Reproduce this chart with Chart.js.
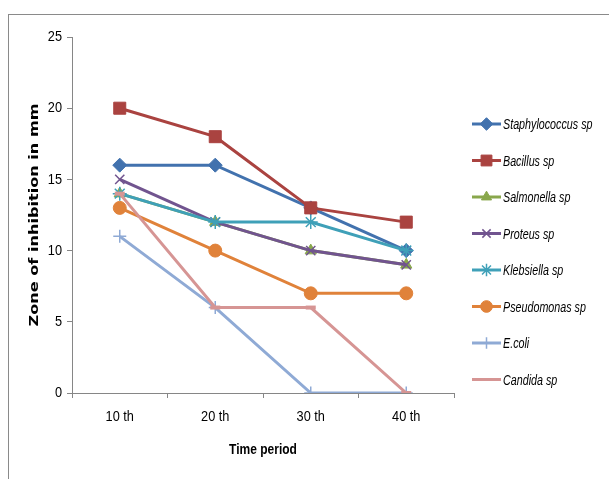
<!DOCTYPE html>
<html>
<head>
<meta charset="utf-8">
<script src="https://cdn.jsdelivr.net/npm/chart.js@4"></script>
<style>
  html, body { margin: 0; padding: 0; background: #fff; }
  #wrap { position: relative; width: 609px; height: 479px; overflow: hidden; }
  #frame { position: absolute; left: 8px; top: 14px; width: 700px; height: 600px; border: 1px solid #8a8a8a; }
  #chart { position: absolute; left: 0; top: 0; }
</style>
</head>
<body>
<div id="wrap">
  <div id="frame"></div>
  <canvas id="chart" width="609" height="479"></canvas>
</div>
<script>
// time periods on the x axis
const periods = ['10 th', '20 th', '30 th', '40 th'];

// zone of inhibition (mm) per organism
const staphylococcus = [16, 16, 13, 10];
const bacillus = [20, 18, 13, 12];
const salmonella = [14, 12, 10, 9];
const proteus = [15, 12, 10, 9];
const klebsiella = [14, 12, 12, 10];
const pseudomonas = [13, 10, 7, 7];
const ecoli = [11, 6, 0, 0];
const candida = [14, 6, 6, 0];

const yTicks = [0, 5, 10, 15, 20, 25];
const xTitle = 'Time period';
const yTitle = 'Zone of inhibition in mm';

const sans = "'Liberation Sans', Arial, sans-serif";

function series(label, data, color, style, radius, bw, idx) {
  return {
    label: label,
    data: data,
    borderColor: color,
    backgroundColor: color,
    borderWidth: 3,
    pointStyle: style,
    pointRadius: radius,
    pointHoverRadius: radius,
    pointBorderWidth: bw,
    pointBorderColor: color,
    pointBackgroundColor: color,
    tension: 0,
    order: -idx // later series sit on top, like the original
  };
}

const datasets = [
  series('Staphylococcus sp', staphylococcus, '#4272AE', 'rectRot', 7, 1, 0),
  series('Bacillus sp', bacillus, '#AA4340', 'rect', 8.5, 1, 1),
  series('Salmonella sp', salmonella, '#89A74C', 'triangle', 6.5, 1, 2),
  series('Proteus sp', proteus, '#71548F', 'crossRot', 6.5, 1.5, 3),
  series('Klebsiella sp', klebsiella, '#3FA0B8', 'star', 7, 1.5, 4),
  series('Pseudomonas sp', pseudomonas, '#E0823A', 'circle', 6.5, 1, 5),
  series('E.coli', ecoli, '#8FAAD5', 'cross', 6.5, 1.5, 6),
  series('Candida sp', candida, '#D69594', 'line', 5, 4, 7)
];

// the original picture is squeezed sideways, so text is drawn narrow
function squeezedText(ctx, text, x, y, font, sx, align) {
  ctx.save();
  ctx.translate(x, y);
  ctx.scale(sx, 1);
  ctx.font = font;
  ctx.fillStyle = '#000';
  ctx.textAlign = align;
  ctx.textBaseline = 'middle';
  ctx.fillText(text, 0, 0);
  ctx.restore();
}

const axisText = {
  id: 'axisText',
  afterDraw(chart) {
    const ctx = chart.ctx;
    const xs = chart.scales.x, ys = chart.scales.y;
    xs.ticks.forEach((t, i) => {
      squeezedText(ctx, periods[i], xs.getPixelForTick(i), 417, '15px ' + sans, 0.85, 'center');
    });
    ys.ticks.forEach(t => {
      squeezedText(ctx, String(t.value), 62, ys.getPixelForValue(t.value), '15px ' + sans, 0.85, 'right');
    });
    squeezedText(ctx, xTitle, (chart.chartArea.left + chart.chartArea.right) / 2, 450,
      'bold 15px ' + sans, 0.8, 'center');
    // y title: rotated, stretched along its length
    ctx.save();
    ctx.translate(35, (chart.chartArea.top + chart.chartArea.bottom) / 2);
    ctx.rotate(-Math.PI / 2);
    ctx.scale(1.4, 1);
    ctx.font = "bold 11.5px 'DejaVu Sans', sans-serif";
    ctx.fillStyle = '#000';
    ctx.textAlign = 'center';
    ctx.textBaseline = 'middle';
    ctx.fillText(yTitle, 0, 0);
    ctx.restore();
  }
};

// legend drawn at the right with line + marker like the original
const sideLegend = {
  id: 'sideLegend',
  afterDraw(chart) {
    const ctx = chart.ctx;
    const top = 124, step = 36.5, x0 = 472, x1 = 501;
    chart.data.datasets.forEach((ds, i) => {
      const y = top + i * step;
      ctx.save();
      ctx.strokeStyle = ds.borderColor;
      ctx.lineWidth = 3;
      ctx.beginPath();
      ctx.moveTo(x0, y);
      ctx.lineTo(x1, y);
      ctx.stroke();
      if (Chart.helpers && Chart.helpers.drawPoint && ds.pointStyle !== 'line') {
        ctx.fillStyle = ds.backgroundColor;
        ctx.strokeStyle = ds.borderColor;
        ctx.lineWidth = ds.pointBorderWidth;
        Chart.helpers.drawPoint(ctx, {
          pointStyle: ds.pointStyle,
          radius: ds.pointRadius * 0.9,
          rotation: 0,
          borderWidth: ds.pointBorderWidth
        }, (x0 + x1) / 2, y);
      }
      ctx.restore();
      squeezedText(ctx, ds.label, x1 + 2, y + 1, 'italic 14.5px ' + sans, 0.74, 'left');
    });
  }
};

new Chart(document.getElementById('chart'), {
  type: 'line',
  data: { labels: periods, datasets: datasets },
  options: {
    responsive: false,
    animation: false,
    devicePixelRatio: 1,
    layout: { padding: { top: 37, right: 155, bottom: 0, left: 0 } },
    plugins: {
      legend: { display: false },
      tooltip: { enabled: false }
    },
    scales: {
      x: {
        offset: true,
        grid: {
          offset: true,
          drawOnChartArea: false,
          drawTicks: true,
          tickLength: 5,
          color: '#868686'
        },
        border: { display: true, color: '#868686', width: 1 },
        ticks: { display: false },
        afterFit(scale) { scale.height = 86; }
      },
      y: {
        min: 0,
        max: 25,
        afterBuildTicks(scale) { scale.ticks = yTicks.map(v => ({ value: v })); },
        grid: {
          drawOnChartArea: false,
          drawTicks: true,
          tickLength: 5,
          color: '#868686'
        },
        border: { display: true, color: '#868686', width: 1 },
        ticks: { display: false },
        afterFit(scale) { scale.width = 72; }
      }
    }
  },
  plugins: [axisText, sideLegend]
});
</script>
</body>
</html>
